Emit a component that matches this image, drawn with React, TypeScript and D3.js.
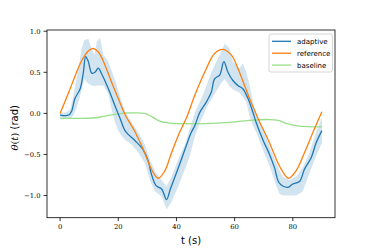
import React from "react";
import * as d3 from "d3";

const xTicks = [0, 20, 40, 60, 80];
const yTicks = [-1.0, -0.5, 0.0, 0.5, 1.0];

const refT = [0,2.9,5.1,7.4,9.7,11.3,13.1,15.4,17.7,20,22.4,25.7,29.1,31.4,33.7,36,38.3,41.1,43.6,46.3,49.7,53.1,56,58.9,61.1,63.4,65.6,68.3,72,75.4,78.5,81.1,84,87.4,90];
const refV = [0,0.25,0.45,0.64,0.76,0.79,0.75,0.59,0.38,0.18,-0.02,-0.22,-0.48,-0.68,-0.79,-0.7,-0.48,-0.23,-0.04,0.22,0.5,0.73,0.78,0.71,0.55,0.34,0.14,-0.08,-0.36,-0.64,-0.79,-0.7,-0.48,-0.19,0.02];

const adaptT = [0,3,4,5.1,6.9,8,8.8,9.7,10.9,12,13.1,14.3,16.6,18.9,20.6,22.5,25.7,28.3,30.3,31.4,33,34.9,36.6,37.9,39.2,41.4,43.4,45,46.3,48,50.3,52,53.1,54.9,56.3,57.7,59.4,61.1,62.8,64.6,66.3,67.4,69.7,72,73.7,75.4,78.3,80,82.3,84,86.3,88,90];
const adaptV = [-0.02,-0.02,0.03,0.18,0.3,0.5,0.69,0.63,0.49,0.5,0.55,0.48,0.3,0.09,-0.06,-0.22,-0.33,-0.43,-0.58,-0.74,-0.88,-0.92,-1.05,-0.92,-0.8,-0.59,-0.39,-0.24,-0.15,0.01,0.14,0.26,0.42,0.47,0.63,0.5,0.4,0.34,0.3,0.18,0.01,-0.11,-0.32,-0.5,-0.66,-0.85,-0.9,-0.86,-0.83,-0.68,-0.54,-0.36,-0.21];

const bandT = [0,2,3.5,4.6,5.5,6.3,7.4,8.3,9.7,10.9,11.8,12.6,13.7,14.9,16.6,17.7,18.9,20,21.1,22.3,24.6,26.9,29.1,30.9,32.6,34.9,36.6,38.3,40.6,42.9,44.6,46.3,48,49.5,50.3,52,53.7,55.4,56.6,58.3,59.4,61.7,62.8,64,65.1,66.3,67.4,69.7,72,74.3,75.5,76.6,78.9,81.1,83.4,85.7,88,90];
const bandUpper = [0.01,0.01,0.05,0.22,0.4,0.55,0.79,0.89,0.91,0.79,0.71,0.87,0.92,0.71,0.63,0.52,0.4,0.28,0.15,0.03,-0.11,-0.23,-0.38,-0.56,-0.7,-0.81,-0.89,-0.77,-0.56,-0.38,-0.19,0.01,0.14,0.26,0.34,0.5,0.63,0.75,0.85,0.79,0.63,0.55,0.61,0.5,0.35,0.14,0.01,-0.19,-0.4,-0.6,-0.7,-0.77,-0.81,-0.77,-0.66,-0.48,-0.23,-0.05];
const bandLower = [-0.05,-0.06,-0.07,-0.02,0.05,0.14,0.28,0.42,0.36,0.34,0.33,0.34,0.34,0.34,0.24,0.05,-0.11,-0.21,-0.27,-0.32,-0.38,-0.48,-0.6,-0.81,-0.95,-1.01,-1.17,-1.08,-0.89,-0.68,-0.52,-0.28,-0.12,0,0.07,0.17,0.27,0.37,0.42,0.33,0.29,0.25,0.2,0.14,-0.03,-0.15,-0.23,-0.44,-0.64,-0.88,-0.98,-1,-1,-1,-0.95,-0.73,-0.52,-0.36];

const baseT = [0,8,13,16,20,24,29,31.5,34,37,42,50,58,65,72,75,78,82,90];
const baseV = [-0.06,-0.06,-0.05,-0.03,-0.005,0.005,0,-0.04,-0.09,-0.115,-0.125,-0.125,-0.11,-0.085,-0.075,-0.085,-0.125,-0.155,-0.165];

const legendLabels = ["adaptive", "reference", "baseline"];
const colors = ["#1f77b4", "#ff7f0e", "#98df8a"];

const W = 374, H = 249;
const L = 47, R = 335, T = 30, B = 217.7;

export default function App() {
  const x = d3.scaleLinear().domain([-4.5, 94.5]).range([L, R]);
  const y = d3.scaleLinear().domain([-1.27, 1.015]).range([B, T]);

  const line = (ts: number[], vs: number[]) =>
    d3.line<number>()
      .x((_, i) => x(ts[i]))
      .y((v) => y(v))
      .curve(d3.curveCatmullRom.alpha(0.5))(vs) || "";

  const band = d3.area<number>()
    .x((_, i) => x(bandT[i]))
    .y0((_, i) => y(bandLower[i]))
    .y1((_, i) => y(bandUpper[i]))
    .curve(d3.curveLinear)(bandT.map((_, i) => i)) || "";

  const tickFont = "'DejaVu Serif', serif";
  const sans = "'DejaVu Sans', sans-serif";

  return (
    <svg width={W} height={H} style={{ position: "absolute", left: 0, top: 0 }} xmlns="http://www.w3.org/2000/svg">
      <rect x={0} y={0} width={W} height={H} fill="#fff" />
      <defs>
        <clipPath id="plotclip">
          <rect x={L} y={T} width={R - L} height={B - T} />
        </clipPath>
      </defs>
      <g clipPath="url(#plotclip)">
        <path d={band} fill="#1f77b4" fillOpacity={0.2} stroke="none" />
        <path d={line(baseT, baseV)} fill="none" stroke={colors[2]} strokeWidth={1.3} />
        <path d={line(adaptT, adaptV)} fill="none" stroke={colors[0]} strokeWidth={1.3} strokeLinejoin="round" />
        <path d={line(refT, refV)} fill="none" stroke={colors[1]} strokeWidth={1.3} />
      </g>
      <rect x={L} y={T} width={R - L} height={B - T} fill="none" stroke="#000" strokeWidth={0.8} />
      {xTicks.map((t) => (
        <g key={"x" + t}>
          <line x1={x(t)} x2={x(t)} y1={B} y2={B + 3.5} stroke="#000" strokeWidth={0.8} />
          <text x={x(t)} y={B + 11.5} fontSize={6.8} fontFamily={tickFont} textAnchor="middle">{t}</text>
        </g>
      ))}
      {yTicks.map((t) => (
        <g key={"y" + t}>
          <line x1={L - 3.5} x2={L} y1={y(t)} y2={y(t)} stroke="#000" strokeWidth={0.8} />
          <text x={L - 6.5} y={y(t) + 2.4} fontSize={6.8} fontFamily={tickFont} textAnchor="end">
            {t < 0 ? "\u2212" + Math.abs(t).toFixed(1) : t.toFixed(1)}
          </text>
        </g>
      ))}
      <text x={(L + R) / 2} y={244} fontSize={10} fontFamily={sans} textAnchor="middle">t (s)</text>
      <text transform={`translate(18, ${(T + B) / 2 + 4}) rotate(-90)`} fontSize={10} textAnchor="middle">
        <tspan fontFamily={tickFont} fontStyle="italic">θ</tspan>
        <tspan fontFamily={tickFont}>(</tspan>
        <tspan fontFamily={tickFont} fontStyle="italic">t</tspan>
        <tspan fontFamily={tickFont}>)</tspan>
        <tspan fontFamily={sans}> (rad)</tspan>
      </text>
      <g>
        <rect x={269} y={34} width={63.5} height={38} rx={2} fill="#fff" fillOpacity={0.8} stroke="#cccccc" strokeWidth={0.8} />
        {legendLabels.map((lab, i) => (
          <g key={lab}>
            <line x1={272} x2={291} y1={41.3 + i * 11.9} y2={41.3 + i * 11.9} stroke={colors[i]} strokeWidth={1.3} />
            <text x={297} y={41.3 + i * 11.9 + 2.5} fontSize={7} fontFamily={sans}>{lab}</text>
          </g>
        ))}
      </g>
    </svg>
  );
}
